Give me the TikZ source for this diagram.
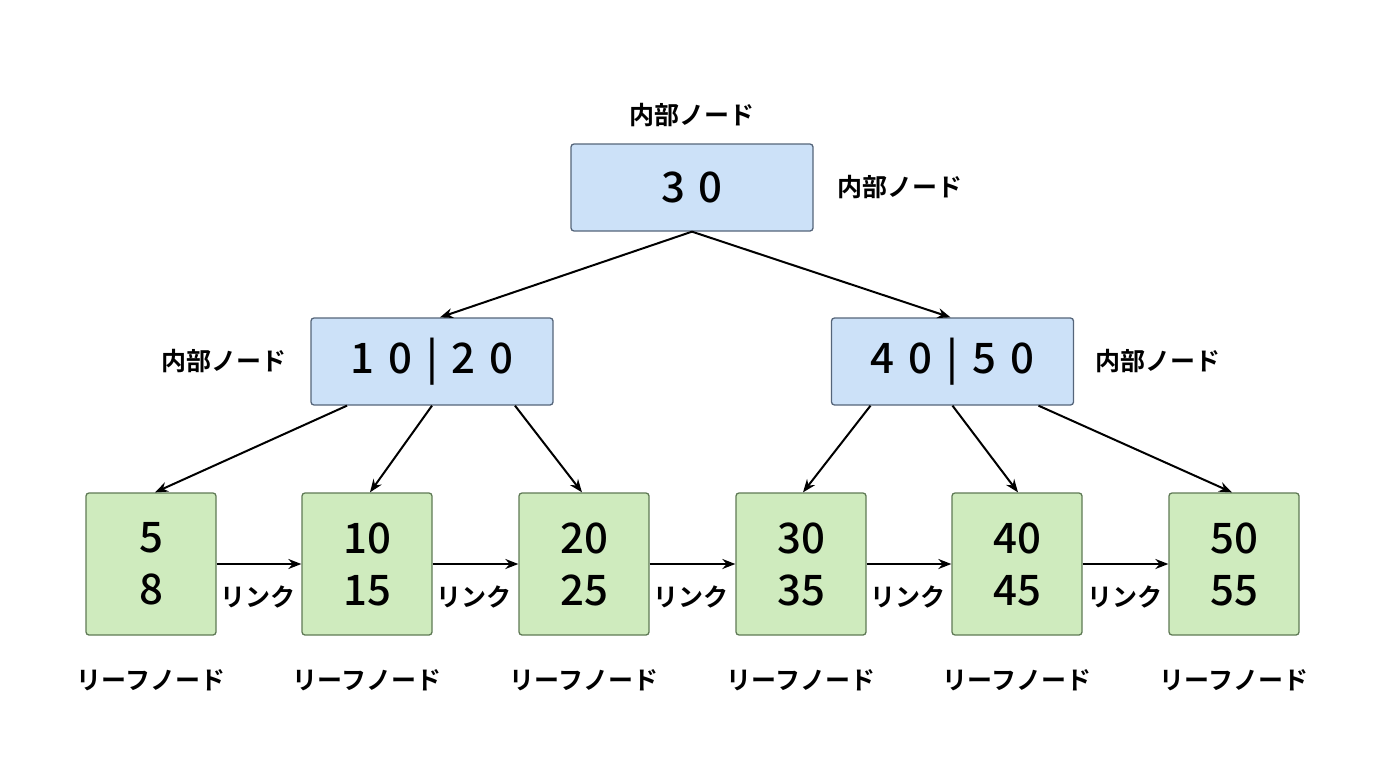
\documentclass[tikz,border=0pt]{standalone}
\usepackage{fontspec}
\setmainfont{Noto Sans CJK JP Medium}
\newfontfamily\jpb{Noto Sans CJK JP Bold}
\usetikzlibrary{arrows.meta}
\definecolor{bfill}{HTML}{CCE1F8}
\definecolor{bdraw}{HTML}{55657A}
\definecolor{gfill}{HTML}{CFEBBE}
\definecolor{gdraw}{HTML}{5F7A55}
\begin{document}
\begin{tikzpicture}[x=1pt,y=-1pt,
 inode/.style={draw=bdraw,fill=bfill,rounded corners=3pt,line width=1.3pt,minimum width=242pt,minimum height=87pt,font=\fontsize{42}{44}\selectfont,inner sep=0pt},
 leaf/.style={draw=gdraw,fill=gfill,rounded corners=3pt,line width=1.3pt,minimum width=130pt,minimum height=142pt,font=\fontsize{42}{52}\selectfont,align=center,inner sep=0pt},
 lab/.style={font=\jpb\fontsize{25}{28}\selectfont},
 arr/.style={-{Stealth[length=13pt,width=10pt]},line width=2pt}]
\useasboundingbox (0,0) rectangle (1376,768);
\node[inode] (r) at (692,187.5) {3\,\,0};
\node[inode] (a) at (432,361.5) {1\,\,0\,\,|\,\,2\,\,0};
\node[inode] (b) at (952.5,361.5) {4\,\,0\,\,|\,\,5\,\,0};
\node[lab] (lr) at (692,115) {内部ノード};
\node[lab] (lr2) at (900,187) {内部ノード};
\node[lab] (la) at (224,361) {内部ノード};
\node[lab] (lb) at (1158,361) {内部ノード};
\foreach \i/\x/\t in {1/151/5\\8,2/367/10\\15,3/584/20\\25,4/801/30\\35,5/1017/40\\45,6/1234/50\\55}{
  \node[leaf] (l\i) at (\x,564) {\t};
  \node[lab] (f\i) at (\x,680) {リーフノード};
}
\foreach \i/\j/\x in {1/2/258,2/3/474,3/4/691,4/5/908,5/6/1125}{
  \draw[arr] (l\i.east) -- (l\j.west);
  \node[lab] (k\i) at (\x,597) {リンク};
}
\draw[arr] (r.south) -- ([xshift=8pt]a.north);
\draw[arr] (r.south) -- ([xshift=-2pt]b.north);
\draw[arr] ([xshift=-85pt]a.south) -- ([xshift=4pt]l1.north);
\draw[arr] (a.south) -- ([xshift=3pt]l2.north);
\draw[arr] ([xshift=83pt]a.south) -- ([xshift=-2pt]l3.north);
\draw[arr] ([xshift=-82pt]b.south) -- ([xshift=2pt]l4.north);
\draw[arr] (b.south) -- ([xshift=1pt]l5.north);
\draw[arr] ([xshift=86pt]b.south) -- ([xshift=-2pt]l6.north);
\end{tikzpicture}
\end{document}
